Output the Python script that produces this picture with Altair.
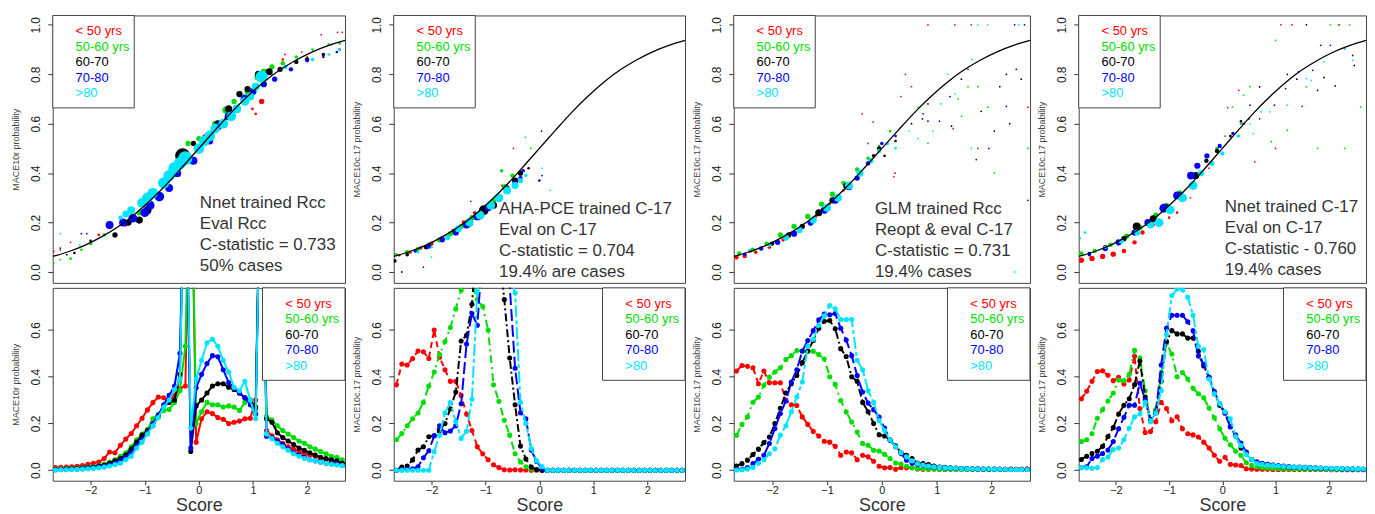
import altair as alt
import pandas as pd

GROUPS = ["< 50 yrs", "50-60 yrs", "60-70", "70-80", ">80"]
COLORS = ["#ff0000", "#00dd00", "#000000", "#0000ff", "#00e5ff"]
DASHES = [[6, 4], [8, 4, 2, 4], [8, 3, 2, 3], [12, 4], [4, 3, 12, 3]]
FONT = "Liberation Sans"

Y_TITLES = ["MACE10r probability", "MACE10c.17 probability",
            "MACE10c.17 probability", "MACE10c.17 probability"]
NOTES = [
    ["Nnet trained Rcc", "Eval Rcc", "C-statistic = 0.733", "50% cases"],
    ["AHA-PCE trained C-17", "Eval on C-17", "C-statistic = 0.704", "19.4% are cases"],
    ["GLM trained Rcc", "Reopt & eval C-17", "C-statistic = 0.731", "19.4% cases"],
    ["Nnet trained C-17", "Eval on C-17", "C-statistic - 0.760", "19.4% cases"],
]

# reference logistic calibration curve (score, probability)
CURVE_SCORE = [-2.7, -2.4, -2.1, -1.8, -1.5, -1.2, -0.9, -0.6, -0.3, 0.0,
               0.3, 0.6, 0.9, 1.2, 1.5, 1.8, 2.1, 2.4, 2.7]
CURVE_PROB = [0.063, 0.083, 0.109, 0.142, 0.182, 0.231, 0.289, 0.354, 0.426, 0.5,
              0.574, 0.646, 0.711, 0.769, 0.818, 0.858, 0.891, 0.917, 0.937]

# top panels: (group, score, probability, bin weight)
TOP1 = [
    (0, -2.68, 0.083, 2), (0, -2.56, 0.09, 2), (0, -2.37, 0.12, 2), (0, -2.2, 0.10, 2),
    (0, -1.85, 0.15, 3), (0, -1.55, 0.15, 5), (0, -1.35, 0.19, 4), (0, -0.35, 0.44, 4),
    (0, 0.1, 0.55, 4), (0, 0.49, 0.62, 3), (0, 0.7, 0.66, 4), (0, 0.99, 0.66, 3),
    (0, 1.05, 0.64, 3), (0, 1.16, 0.69, 6), (0, 1.55, 0.86, 3), (0, 1.59, 0.88, 2),
    (0, 1.9, 0.89, 2), (0, 2.0, 0.87, 2), (0, 2.26, 0.96, 2), (0, 2.45, 0.92, 2),
    (0, 2.56, 0.97, 2), (0, 2.65, 0.97, 2),
    (1, -2.68, 0.036, 2), (1, -2.56, 0.05, 2), (1, -2.37, 0.054, 3), (1, -2.17, 0.09, 3),
    (1, -2.0, 0.115, 4), (1, -1.75, 0.15, 4), (1, -1.3, 0.2, 6), (1, -1.1, 0.24, 6),
    (1, -0.9, 0.28, 6), (1, -0.6, 0.38, 5), (1, -0.2, 0.52, 6), (1, 0.0, 0.54, 6),
    (1, 0.3, 0.6, 7), (1, 0.5, 0.655, 8), (1, 0.65, 0.69, 6), (1, 0.75, 0.72, 7),
    (1, 0.9, 0.73, 7), (1, 1.1, 0.79, 9), (1, 1.2, 0.81, 7), (1, 1.35, 0.83, 6),
    (1, 1.55, 0.845, 5), (1, 1.8, 0.87, 4), (1, 2.1, 0.9, 3), (1, 2.4, 0.92, 3),
    (1, 2.6, 0.925, 3),
    (2, -2.44, 0.07, 2), (2, -2.3, 0.077, 3), (2, -2.0, 0.126, 3), (2, -1.55, 0.15, 6),
    (2, -1.3, 0.2, 7), (2, -1.1, 0.21, 8), (2, -0.95, 0.25, 9), (2, -0.6, 0.37, 8),
    (2, -0.3, 0.47, 17), (2, -0.1, 0.52, 6), (2, 0.1, 0.53, 7), (2, 0.35, 0.6, 8),
    (2, 0.55, 0.66, 8), (2, 0.75, 0.72, 7), (2, 0.9, 0.74, 7), (2, 1.1, 0.8, 8),
    (2, 1.3, 0.81, 8), (2, 1.5, 0.82, 6), (2, 1.8, 0.85, 5), (2, 2.0, 0.86, 5),
    (2, 2.3, 0.88, 4), (2, 2.6, 0.9, 3),
    (3, -2.56, 0.097, 2), (3, -2.17, 0.155, 2), (3, -2.07, 0.155, 2), (3, -1.65, 0.19, 9),
    (3, -1.4, 0.2, 9), (3, -1.22, 0.218, 10), (3, -1.0, 0.24, 10), (3, -0.9, 0.27, 10),
    (3, -0.73, 0.305, 11), (3, -0.55, 0.34, 9), (3, -0.4, 0.4, 9), (3, -0.1, 0.45, 9),
    (3, 0.2, 0.53, 8), (3, 0.35, 0.59, 9), (3, 0.55, 0.63, 9), (3, 0.7, 0.66, 9),
    (3, 0.85, 0.7, 10), (3, 1.0, 0.73, 8), (3, 1.2, 0.76, 7), (3, 1.4, 0.78, 6),
    (3, 1.7, 0.82, 5), (3, 2.0, 0.855, 4), (3, 2.3, 0.87, 3), (3, 2.55, 0.89, 3),
    (4, -2.56, 0.155, 2), (4, -2.2, 0.11, 2), (4, -1.45, 0.22, 5), (4, -1.35, 0.235, 8),
    (4, -1.25, 0.25, 9), (4, -1.05, 0.28, 11), (4, -0.95, 0.3, 12), (4, -0.85, 0.32, 12),
    (4, -0.65, 0.36, 13), (4, -0.55, 0.39, 13), (4, -0.45, 0.42, 14), (4, -0.35, 0.44, 14),
    (4, -0.25, 0.46, 16), (4, 0.0, 0.5, 12), (4, 0.1, 0.53, 12), (4, 0.2, 0.55, 12),
    (4, 0.3, 0.58, 11), (4, 0.45, 0.6, 11), (4, 0.6, 0.63, 11), (4, 0.7, 0.66, 10),
    (4, 0.85, 0.69, 10), (4, 0.95, 0.71, 9), (4, 1.05, 0.75, 9), (4, 1.16, 0.79, 14),
    (4, 1.6, 0.83, 5), (4, 2.1, 0.86, 4), (4, 2.4, 0.88, 3), (4, 2.6, 0.9, 3),
]
TOP2 = [
    (0, -2.6, 0.068, 3), (0, -2.4, 0.08, 4), (0, -2.2, 0.097, 4), (0, -2.0, 0.115, 5),
    (0, -1.8, 0.138, 5), (0, -1.6, 0.165, 5), (0, -1.4, 0.2, 5), (0, -1.2, 0.24, 4),
    (0, -1.27, 0.286, 2), (0, -0.48, 0.5, 2), (0, -0.7, 0.35, 2),
    (1, -2.65, 0.07, 4), (1, -2.45, 0.08, 5), (1, -2.25, 0.093, 5), (1, -2.05, 0.11, 5),
    (1, -1.85, 0.13, 6), (1, -1.65, 0.155, 6), (1, -1.45, 0.185, 6), (1, -1.25, 0.22, 6),
    (1, -1.05, 0.25, 7), (1, -0.85, 0.29, 6), (1, -0.65, 0.345, 6), (1, -0.5, 0.39, 5),
    (1, -0.7, 0.41, 4), (1, -0.26, 0.545, 2), (1, -0.16, 0.5, 2),
    (2, -2.68, 0.045, 4), (2, -2.45, 0.07, 4), (2, -2.1, 0.1, 5), (2, -1.8, 0.13, 5),
    (2, -1.55, 0.165, 7), (2, -1.3, 0.2, 9), (2, -1.03, 0.25, 11), (2, -0.85, 0.27, 8),
    (2, -0.6, 0.34, 6), (2, -0.45, 0.37, 7), (2, -0.35, 0.4, 6), (2, -0.2, 0.42, 3),
    (2, 0.04, 0.57, 2),
    (3, -2.55, 0.0, 2), (3, -2.3, 0.085, 4), (3, -2.05, 0.105, 6), (3, -1.8, 0.13, 6),
    (3, -1.55, 0.16, 7), (3, -1.35, 0.19, 8), (3, -1.15, 0.225, 9), (3, -0.95, 0.26, 8),
    (3, -0.75, 0.3, 8), (3, -0.6, 0.33, 7), (3, -0.45, 0.36, 6), (3, -0.35, 0.38, 5),
    (3, -0.3, 0.41, 4), (3, 0.0, 0.37, 3), (3, 0.05, 0.39, 2), (3, -2.15, 0.02, 2),
    (4, -2.25, 0.08, 3), (4, -2.0, 0.1, 3), (4, -1.7, 0.14, 6), (4, -1.5, 0.175, 8),
    (4, -1.3, 0.2, 9), (4, -1.1, 0.23, 10), (4, -0.9, 0.27, 10), (4, -0.75, 0.3, 10),
    (4, -0.6, 0.33, 9), (4, -0.45, 0.35, 8), (4, -0.35, 0.37, 6), (4, -0.25, 0.39, 4),
    (4, 0.2, 0.33, 2), (4, -2.0, 0.06, 2), (4, 0.05, 0.42, 2),
]
TOP3 = [
    (0, -2.65, 0.06, 5), (0, -2.5, 0.065, 5), (0, -2.3, 0.08, 4), (0, -2.05, 0.1, 4),
    (0, -1.8, 0.13, 4), (0, -1.5, 0.17, 4), (0, -1.2, 0.225, 3), (0, -0.95, 0.275, 3),
    (0, -0.7, 0.33, 3), (0, -0.5, 0.375, 2), (0, -0.36, 0.64, 2), (0, -0.16, 0.607, 2),
    (0, -0.25, 0.52, 2), (0, 0.22, 0.385, 2), (0, 0.24, 0.40, 2), (0, 0.35, 0.71, 2),
    (0, 0.43, 0.8, 2), (0, 0.54, 0.75, 2), (0, 0.84, 1.0, 2), (0, 1.33, 1.0, 2),
    (0, 1.63, 1.0, 2), (0, 1.75, 0.5, 2), (0, 2.66, 0.667, 2), (0, 1.3, 0.58, 2),
    (1, -2.6, 0.075, 5), (1, -2.35, 0.09, 5), (1, -2.1, 0.115, 5), (1, -1.85, 0.15, 6),
    (1, -1.6, 0.185, 6), (1, -1.35, 0.225, 6), (1, -1.1, 0.275, 6), (1, -0.9, 0.315, 6),
    (1, -0.7, 0.36, 5), (1, -0.45, 0.415, 5), (1, -0.25, 0.46, 4), (1, -0.05, 0.51, 3),
    (1, 0.15, 0.57, 3), (1, 0.66, 0.667, 2), (1, 0.84, 0.52, 2), (1, 1.39, 0.7, 2),
    (1, 1.57, 0.75, 2), (1, 1.75, 0.75, 2), (1, 1.45, 0.63, 2), (1, 1.93, 0.667, 2),
    (1, 2.05, 0.4, 2), (1, 2.66, 0.5, 2),
    (2, -2.4, 0.085, 4), (2, -2.0, 0.115, 5), (2, -1.7, 0.15, 6), (2, -1.45, 0.185, 6),
    (2, -1.15, 0.24, 8), (2, -0.9, 0.29, 7), (2, -0.64, 0.348, 8), (2, -0.4, 0.4, 6),
    (2, -0.15, 0.47, 4), (2, -0.05, 0.5, 5), (2, 0.05, 0.47, 3), (2, 0.25, 0.53, 3),
    (2, 0.84, 0.68, 2), (2, 0.74, 0.62, 2), (2, 0.54, 0.6, 2), (2, 1.27, 0.59, 2),
    (2, 1.45, 0.78, 2), (2, 1.81, 0.65, 2), (2, 2.15, 0.75, 2), (2, 2.27, 0.8, 2),
    (2, 2.45, 0.82, 2), (2, 2.54, 0.78, 2), (2, 2.05, 0.57, 2), (2, 2.33, 0.6, 2),
    (3, -2.5, 0.072, 4), (3, -2.2, 0.095, 5), (3, -1.9, 0.12, 6), (3, -1.6, 0.155, 7),
    (3, -1.3, 0.2, 7), (3, -1.05, 0.25, 8), (3, -0.85, 0.29, 8), (3, -0.6, 0.345, 8),
    (3, -0.45, 0.38, 6), (3, -0.25, 0.44, 5), (3, 0.0, 0.52, 4), (3, 0.25, 0.55, 3),
    (3, 2.42, 1.0, 2), (3, 2.6, 1.0, 2), (3, 1.57, 0.82, 2), (3, 1.24, 0.71, 2),
    (3, 0.84, 0.61, 2), (3, 0.75, 0.64, 2), (3, 1.05, 0.61, 2), (3, 1.72, 0.455, 2),
    (3, 2.27, 0.67, 2), (3, 2.66, 0.29, 2), (3, 1.95, 0.5, 2),
    (4, -2.4, 0.09, 3), (4, -2.05, 0.11, 5), (4, -1.75, 0.14, 7), (4, -1.5, 0.17, 7),
    (4, -1.25, 0.21, 8), (4, -1.0, 0.26, 9), (4, -0.8, 0.3, 9), (4, -0.6, 0.35, 9),
    (4, -0.4, 0.4, 8), (4, -0.2, 0.45, 6), (4, -0.05, 0.49, 5), (4, 0.1, 0.52, 4),
    (4, 0.25, 0.5, 3), (4, 1.75, 1.0, 2), (4, 1.93, 1.0, 2), (4, 2.5, 1.0, 2),
    (4, 1.64, 0.86, 2), (4, 1.2, 0.8, 2), (4, 1.33, 0.72, 2), (4, 1.08, 0.68, 2),
    (4, 0.93, 0.57, 2), (4, 0.66, 0.54, 2), (4, 1.63, 0.5, 2), (4, 2.42, 0.0, 2),
    (4, 0.5, 0.57, 2),
]
TOP4 = [
    (0, -2.65, 0.048, 6), (0, -2.45, 0.055, 6), (0, -2.25, 0.063, 6), (0, -2.05, 0.072, 6),
    (0, -1.85, 0.085, 5), (0, -1.65, 0.12, 5), (0, -1.5, 0.16, 5), (0, -1.3, 0.19, 4),
    (0, -1.0, 0.22, 3), (0, -0.85, 0.24, 3), (0, -0.6, 0.3, 2), (0, -0.25, 0.42, 2),
    (0, 0.05, 0.55, 2), (0, 0.1, 0.665, 2), (0, 0.31, 0.735, 2), (0, 1.1, 1.0, 2),
    (0, 1.31, 1.0, 2), (0, 0.61, 0.446, 2), (0, 1.0, 0.5, 2), (0, 1.5, 0.67, 2),
    (0, 2.2, 1.0, 2),
    (1, -2.65, 0.075, 5), (1, -2.4, 0.085, 5), (1, -2.1, 0.11, 5), (1, -1.8, 0.145, 6),
    (1, -1.55, 0.18, 6), (1, -1.25, 0.23, 6), (1, -1.05, 0.27, 6), (1, -0.8, 0.32, 6),
    (1, -0.55, 0.39, 5), (1, -0.3, 0.45, 4), (1, -0.1, 0.5, 4), (1, 0.15, 0.55, 3),
    (1, 0.35, 0.6, 3), (1, 1.0, 0.937, 2), (1, 0.19, 0.668, 2), (1, 0.4, 0.715, 2),
    (1, 0.52, 0.75, 2), (1, 0.92, 0.527, 2), (1, 1.22, 0.574, 2), (1, 1.58, 0.749, 2),
    (1, 1.79, 0.5, 2), (1, 2.3, 0.5, 2), (1, 2.03, 1.0, 2), (1, 2.18, 1.0, 2),
    (1, 2.39, 1.0, 2), (1, 2.6, 0.668, 2),
    (2, -2.5, 0.075, 4), (2, -2.2, 0.1, 5), (2, -1.85, 0.135, 6), (2, -1.61, 0.184, 9),
    (2, -1.3, 0.215, 8), (2, -1.05, 0.26, 8), (2, -0.8, 0.31, 7), (2, -0.5, 0.39, 8),
    (2, -0.3, 0.45, 5), (2, -0.1, 0.49, 5), (2, 0.15, 0.55, 3), (2, 0.35, 0.61, 3),
    (2, 0.5, 0.62, 2), (2, 0.7, 0.749, 2), (2, 1.22, 0.8, 2), (2, 1.4, 0.78, 2),
    (2, 1.58, 1.0, 2), (2, 1.79, 0.735, 2), (2, 1.91, 0.786, 2), (2, 2.12, 0.753, 2),
    (2, 2.48, 0.836, 2),
    (3, -2.5, 0.07, 4), (3, -2.2, 0.095, 6), (3, -1.95, 0.12, 7), (3, -1.65, 0.16, 7),
    (3, -1.4, 0.2, 8), (3, -1.1, 0.258, 10), (3, -0.85, 0.31, 9), (3, -0.59, 0.39, 9),
    (3, -0.47, 0.43, 7), (3, -0.29, 0.47, 6), (3, -0.05, 0.51, 5), (3, 0.2, 0.56, 4),
    (3, 0.4, 0.6, 3), (3, 0.52, 0.675, 2), (3, 0.7, 0.62, 2), (3, 0.98, 0.675, 2),
    (3, 1.19, 0.742, 2), (3, 1.43, 0.81, 2), (3, 1.7, 0.816, 2), (3, 1.85, 0.917, 2),
    (3, 2.03, 0.917, 2), (3, 2.3, 0.903, 2), (3, 2.45, 0.876, 2),
    (4, -2.67, 0.137, 2), (4, -2.58, 0.16, 3), (4, -2.2, 0.1, 4), (4, -1.9, 0.125, 6),
    (4, -1.6, 0.16, 7), (4, -1.35, 0.19, 8), (4, -1.19, 0.2, 10), (4, -0.98, 0.251, 10),
    (4, -0.75, 0.3, 10), (4, -0.55, 0.35, 10), (4, -0.4, 0.4, 7), (4, -0.2, 0.44, 6),
    (4, 0.0, 0.48, 5), (4, 0.3, 0.55, 4), (4, 0.58, 0.56, 2), (4, 0.52, 0.6, 2),
    (4, 0.73, 0.648, 2), (4, 0.89, 0.648, 2), (4, 1.22, 0.675, 2), (4, 1.58, 0.782, 2),
    (4, 1.67, 0.775, 2), (4, 1.91, 0.85, 2), (4, 2.3, 0.903, 2), (4, 2.45, 0.856, 2),
]

# bottom panels: 54 score bins
SCORE_BINS = [-2.65, -2.55, -2.45, -2.35, -2.25, -2.15, -2.05, -1.95, -1.85, -1.75,
              -1.65, -1.55, -1.45, -1.35, -1.25, -1.15, -1.05, -0.95, -0.85, -0.75,
              -0.65, -0.55, -0.45, -0.35, -0.25, -0.15, -0.05, 0.05, 0.15, 0.25,
              0.35, 0.45, 0.55, 0.65, 0.75, 0.85, 0.95, 1.05, 1.15, 1.25,
              1.35, 1.45, 1.55, 1.65, 1.75, 1.85, 1.95, 2.05, 2.15, 2.25,
              2.35, 2.45, 2.55, 2.65]

B1_RED = [0.011, 0.012, 0.013, 0.015, 0.017, 0.020, 0.025, 0.030, 0.035, 0.050,
          0.078, 0.075, 0.107, 0.133, 0.157, 0.190, 0.222, 0.258, 0.289, 0.313,
          0.310, 0.300, 0.320, 0.350, 0.360, 1.500, 0.120, 0.220, 0.250, 0.242,
          0.225, 0.218, 0.200, 0.205, 0.210, 0.220, 0.222, 0.300, 1.500, 0.170,
          0.147, 0.130, 0.115, 0.100, 0.090, 0.080, 0.070, 0.065, 0.060, 0.050,
          0.045, 0.040, 0.035, 0.030]
B1_GREEN = [0.005, 0.006, 0.007, 0.008, 0.009, 0.011, 0.013, 0.016, 0.020, 0.025,
            0.035, 0.045, 0.060, 0.075, 0.100, 0.130, 0.155, 0.175, 0.220, 0.240,
            0.255, 0.260, 0.290, 0.340, 0.530, 1.500, 0.200, 0.250, 0.290, 0.280,
            0.280, 0.270, 0.275, 0.270, 0.255, 0.290, 0.300, 0.260, 1.500, 0.230,
            0.215, 0.190, 0.170, 0.155, 0.140, 0.125, 0.115, 0.100, 0.090, 0.080,
            0.070, 0.060, 0.055, 0.045]
B1_BLACK = [0.003, 0.004, 0.005, 0.006, 0.007, 0.009, 0.011, 0.014, 0.018, 0.022,
            0.030, 0.040, 0.050, 0.065, 0.090, 0.120, 0.150, 0.170, 0.190, 0.230,
            0.275, 0.290, 0.300, 0.410, 1.500, 0.080, 0.275, 0.300, 0.330, 0.360,
            0.370, 0.370, 0.355, 0.345, 0.330, 0.310, 0.300, 0.270, 1.500, 0.220,
            0.205, 0.160, 0.140, 0.125, 0.110, 0.095, 0.085, 0.075, 0.065, 0.055,
            0.050, 0.045, 0.040, 0.030]
B1_BLUE = [0.002, 0.003, 0.003, 0.004, 0.005, 0.006, 0.008, 0.010, 0.013, 0.017,
           0.022, 0.030, 0.040, 0.055, 0.075, 0.105, 0.130, 0.160, 0.200, 0.235,
           0.280, 0.320, 0.360, 0.500, 1.500, 0.095, 0.353, 0.410, 0.456, 0.490,
           0.485, 0.430, 0.375, 0.350, 0.330, 0.310, 0.280, 0.240, 1.500, 0.145,
           0.140, 0.125, 0.110, 0.090, 0.075, 0.065, 0.055, 0.045, 0.040, 0.035,
           0.030, 0.028, 0.025, 0.020]
B1_CYAN = [0.001, 0.002, 0.002, 0.003, 0.004, 0.005, 0.006, 0.008, 0.010, 0.013,
           0.018, 0.024, 0.030, 0.045, 0.060, 0.095, 0.120, 0.155, 0.190, 0.225,
           0.270, 0.300, 0.345, 0.390, 1.500, 0.180, 0.390, 0.470, 0.545, 0.560,
           0.530, 0.470, 0.420, 0.355, 0.340, 0.380, 0.300, 0.220, 1.500, 0.155,
           0.135, 0.115, 0.100, 0.085, 0.070, 0.060, 0.050, 0.045, 0.040, 0.035,
           0.030, 0.025, 0.022, 0.020]

B2_RED = [0.365, 0.454, 0.450, 0.478, 0.510, 0.507, 0.478, 0.600, 0.483, 0.430,
          0.380, 0.380, 0.320, 0.240, 0.170, 0.100, 0.070, 0.045, 0.023, 0.011,
          0.002, 0.001, 0.002, 0.001, 0.001, 0.000, 0.000, 0.000, 0.000, 0.000,
          0.000, 0.000, 0.000, 0.000, 0.000, 0.000, 0.000, 0.000, 0.000, 0.000,
          0.000, 0.000, 0.000, 0.000, 0.000, 0.000, 0.000, 0.000, 0.000, 0.000,
          0.000, 0.000, 0.000, 0.000]
B2_GREEN = [0.130, 0.157, 0.190, 0.220, 0.245, 0.290, 0.360, 0.420, 0.495, 0.550,
            0.610, 0.690, 0.770, 0.840, 0.800, 0.730, 0.700, 0.600, 0.365, 0.295,
            0.214, 0.150, 0.070, 0.035, 0.015, 0.005, 0.002, 0.000, 0.000, 0.000,
            0.000, 0.000, 0.000, 0.000, 0.000, 0.000, 0.000, 0.000, 0.000, 0.000,
            0.000, 0.000, 0.000, 0.000, 0.000, 0.000, 0.000, 0.000, 0.000, 0.000,
            0.000, 0.000, 0.000, 0.000]
B2_BLACK = [0.000, 0.014, 0.018, 0.044, 0.086, 0.100, 0.143, 0.147, 0.170, 0.200,
            0.263, 0.334, 0.553, 0.577, 0.710, 1.000, 1.100, 1.150, 1.100, 0.950,
            0.730, 0.480, 0.280, 0.103, 0.048, 0.013, 0.003, 0.000, 0.000, 0.000,
            0.000, 0.000, 0.000, 0.000, 0.000, 0.000, 0.000, 0.000, 0.000, 0.000,
            0.000, 0.000, 0.000, 0.000, 0.000, 0.000, 0.000, 0.000, 0.000, 0.000,
            0.000, 0.000, 0.000, 0.000]
B2_BLUE = [0.000, 0.002, 0.004, 0.006, 0.015, 0.053, 0.083, 0.147, 0.190, 0.160,
           0.168, 0.190, 0.284, 0.540, 0.670, 0.620, 0.950, 1.050, 1.100, 1.050,
           0.950, 0.790, 0.436, 0.246, 0.220, 0.086, 0.037, 0.006, 0.000, 0.000,
           0.000, 0.000, 0.000, 0.000, 0.000, 0.000, 0.000, 0.000, 0.000, 0.000,
           0.000, 0.000, 0.000, 0.000, 0.000, 0.000, 0.000, 0.000, 0.000, 0.000,
           0.000, 0.000, 0.000, 0.000]
B2_CYAN = [0.000, 0.000, 0.000, 0.000, 0.000, 0.000, 0.000, 0.079, 0.150, 0.246,
           0.289, 0.207, 0.136, 0.167, 0.303, 0.765, 0.950, 1.050, 1.100, 1.050,
           0.950, 0.850, 0.758, 0.291, 0.200, 0.093, 0.040, 0.016, 0.000, 0.000,
           0.000, 0.000, 0.000, 0.000, 0.000, 0.000, 0.000, 0.000, 0.000, 0.000,
           0.000, 0.000, 0.000, 0.000, 0.000, 0.000, 0.000, 0.000, 0.000, 0.000,
           0.000, 0.000, 0.000, 0.000]

B3_RED = [0.424, 0.448, 0.445, 0.438, 0.370, 0.424, 0.374, 0.374, 0.374, 0.300,
          0.280, 0.277, 0.228, 0.196, 0.166, 0.146, 0.124, 0.120, 0.102, 0.064,
          0.078, 0.074, 0.045, 0.064, 0.057, 0.038, 0.017, 0.010, 0.011, 0.004,
          0.011, 0.010, 0.011, 0.005, 0.004, 0.004, 0.005, 0.004, 0.003, 0.004,
          0.003, 0.004, 0.003, 0.003, 0.004, 0.003, 0.003, 0.004, 0.005, 0.004,
          0.005, 0.004, 0.005, 0.006]
B3_GREEN = [0.149, 0.196, 0.228, 0.291, 0.313, 0.363, 0.398, 0.420, 0.438, 0.473,
            0.490, 0.512, 0.509, 0.509, 0.509, 0.495, 0.476, 0.400, 0.367, 0.298,
            0.249, 0.206, 0.163, 0.114, 0.107, 0.085, 0.082, 0.068, 0.050, 0.031,
            0.026, 0.017, 0.010, 0.007, 0.006, 0.005, 0.005, 0.004, 0.004, 0.004,
            0.003, 0.003, 0.003, 0.003, 0.003, 0.003, 0.003, 0.003, 0.003, 0.003,
            0.003, 0.003, 0.003, 0.003]
B3_BLACK = [0.018, 0.028, 0.043, 0.067, 0.090, 0.118, 0.142, 0.200, 0.265, 0.330,
            0.370, 0.405, 0.460, 0.510, 0.555, 0.607, 0.637, 0.640, 0.605, 0.520,
            0.486, 0.400, 0.380, 0.290, 0.250, 0.200, 0.152, 0.146, 0.128, 0.104,
            0.075, 0.064, 0.050, 0.031, 0.028, 0.024, 0.018, 0.014, 0.012, 0.010,
            0.009, 0.008, 0.007, 0.006, 0.006, 0.005, 0.005, 0.005, 0.004, 0.004,
            0.004, 0.004, 0.003, 0.003]
B3_BLUE = [0.003, 0.004, 0.011, 0.028, 0.047, 0.064, 0.114, 0.178, 0.242, 0.296,
           0.377, 0.430, 0.510, 0.555, 0.597, 0.643, 0.668, 0.665, 0.670, 0.607,
           0.557, 0.490, 0.405, 0.334, 0.287, 0.259, 0.227, 0.180, 0.130, 0.100,
           0.071, 0.043, 0.031, 0.024, 0.021, 0.017, 0.014, 0.012, 0.010, 0.009,
           0.008, 0.007, 0.006, 0.006, 0.005, 0.005, 0.005, 0.004, 0.004, 0.004,
           0.003, 0.003, 0.003, 0.003]
B3_CYAN = [0.001, 0.002, 0.005, 0.012, 0.030, 0.045, 0.070, 0.092, 0.150, 0.190,
           0.250, 0.313, 0.377, 0.530, 0.560, 0.620, 0.660, 0.704, 0.690, 0.645,
           0.645, 0.645, 0.470, 0.430, 0.340, 0.290, 0.213, 0.170, 0.130, 0.100,
           0.075, 0.057, 0.040, 0.028, 0.022, 0.018, 0.015, 0.012, 0.010, 0.009,
           0.008, 0.007, 0.006, 0.006, 0.005, 0.005, 0.005, 0.004, 0.004, 0.004,
           0.003, 0.003, 0.003, 0.003]

B4_RED = [0.306, 0.338, 0.380, 0.422, 0.425, 0.406, 0.383, 0.397, 0.369, 0.386,
          0.488, 0.264, 0.161, 0.165, 0.207, 0.290, 0.264, 0.212, 0.229, 0.177,
          0.156, 0.151, 0.142, 0.120, 0.095, 0.064, 0.038, 0.055, 0.025, 0.022,
          0.020, 0.006, 0.005, 0.004, 0.004, 0.004, 0.003, 0.003, 0.003, 0.003,
          0.003, 0.003, 0.003, 0.003, 0.003, 0.003, 0.003, 0.002, 0.002, 0.002,
          0.002, 0.002, 0.002, 0.002]
B4_GREEN = [0.123, 0.130, 0.156, 0.222, 0.260, 0.296, 0.330, 0.386, 0.383, 0.410,
            0.513, 0.480, 0.340, 0.215, 0.260, 0.410, 0.544, 0.497, 0.400, 0.418,
            0.390, 0.350, 0.327, 0.310, 0.266, 0.224, 0.177, 0.137, 0.109, 0.081,
            0.063, 0.032, 0.021, 0.015, 0.011, 0.009, 0.008, 0.007, 0.006, 0.005,
            0.005, 0.005, 0.004, 0.004, 0.004, 0.004, 0.004, 0.003, 0.003, 0.003,
            0.003, 0.003, 0.003, 0.003]
B4_BLACK = [0.046, 0.060, 0.071, 0.081, 0.102, 0.144, 0.182, 0.240, 0.278, 0.306,
            0.366, 0.467, 0.313, 0.214, 0.250, 0.380, 0.550, 0.597, 0.583, 0.583,
            0.565, 0.565, 0.509, 0.446, 0.397, 0.327, 0.278, 0.245, 0.186, 0.150,
            0.095, 0.074, 0.046, 0.035, 0.029, 0.025, 0.021, 0.018, 0.015, 0.013,
            0.012, 0.011, 0.010, 0.009, 0.008, 0.008, 0.007, 0.007, 0.006, 0.006,
            0.005, 0.005, 0.005, 0.004]
B4_BLUE = [0.011, 0.015, 0.050, 0.060, 0.071, 0.086, 0.123, 0.177, 0.226, 0.278,
           0.278, 0.372, 0.300, 0.210, 0.245, 0.450, 0.607, 0.663, 0.663, 0.663,
           0.635, 0.596, 0.488, 0.453, 0.397, 0.336, 0.285, 0.245, 0.186, 0.150,
           0.116, 0.078, 0.046, 0.035, 0.028, 0.025, 0.022, 0.020, 0.018, 0.016,
           0.014, 0.013, 0.012, 0.011, 0.010, 0.009, 0.008, 0.007, 0.007, 0.006,
           0.005, 0.005, 0.005, 0.004]
B4_CYAN = [0.011, 0.010, 0.008, 0.011, 0.046, 0.056, 0.088, 0.095, 0.130, 0.180,
           0.228, 0.240, 0.290, 0.207, 0.245, 0.340, 0.580, 0.747, 0.775, 0.772,
           0.740, 0.663, 0.530, 0.516, 0.390, 0.327, 0.285, 0.250, 0.220, 0.144,
           0.105, 0.067, 0.046, 0.028, 0.025, 0.022, 0.020, 0.018, 0.016, 0.014,
           0.013, 0.012, 0.011, 0.010, 0.009, 0.009, 0.008, 0.008, 0.007, 0.007,
           0.006, 0.006, 0.005, 0.005]

TOPS = [TOP1, TOP2, TOP3, TOP4]
BOTTOMS = [
    [B1_RED, B1_GREEN, B1_BLACK, B1_BLUE, B1_CYAN],
    [B2_RED, B2_GREEN, B2_BLACK, B2_BLUE, B2_CYAN],
    [B3_RED, B3_GREEN, B3_BLACK, B3_BLUE, B3_CYAN],
    [B4_RED, B4_GREEN, B4_BLACK, B4_BLUE, B4_CYAN],
]

# ---- layout / style ----
WIDTHS = [294, 293, 298, 289]
TOP_H = 269
BOT_H = 194
NOTE_POS = [(148, 189), (106, 195), (142, 195), (147, 193)]
X_DOMAIN = [-2.7, 2.7]
TOP_Y_DOMAIN = [-0.044, 1.038]
BOT_Y_DOMAIN = [-0.045, 0.78]
DUMMY = pd.DataFrame({"k": [0]})


def y_axis(title, values):
    return alt.Axis(values=values, format=".1f", title=title, labelAngle=270,
                    labelAlign="center", labelBaseline="bottom", labelFontSize=12,
                    labelPadding=5, tickSize=5, labelColor="#222", tickColor="#333",
                    titleFontSize=9, titleFontWeight="normal", titleColor="#444",
                    titlePadding=12, domain=False, grid=False,
                    minExtent=20, maxExtent=20)


def legend_layers(x0, width=82, height=93):
    out = [alt.Chart(DUMMY).mark_rect(fill="white", stroke="#444", strokeWidth=1).encode(
        x=alt.value(x0), x2=alt.value(x0 + width), y=alt.value(0), y2=alt.value(height))]
    for gi in range(5):
        out.append(alt.Chart(DUMMY).mark_text(
            text=GROUPS[gi], color=COLORS[gi], align="left", baseline="middle",
            fontSize=13, font=FONT).encode(x=alt.value(x0 + 23), y=alt.value(16 + 15.6 * gi)))
    return out


def top_panel(k):
    w = WIDTHS[k]
    xs = alt.Scale(domain=X_DOMAIN, nice=False, zero=False)
    ys = alt.Scale(domain=TOP_Y_DOMAIN, nice=False, zero=False)
    yax = y_axis(Y_TITLES[k], [0, 0.2, 0.4, 0.6, 0.8, 1.0])
    df = pd.DataFrame(TOPS[k], columns=["g", "score", "prob", "d"])
    df["area"] = df["d"] * df["d"] * 0.785
    layers = []
    for gi in range(5):
        sub = df[df["g"] == gi]
        layers.append(alt.Chart(sub).mark_circle(color=COLORS[gi], opacity=1, clip=True).encode(
            x=alt.X("score:Q", scale=xs, axis=None),
            y=alt.Y("prob:Q", scale=ys, axis=yax),
            size=alt.Size("area:Q", scale=None, legend=None)))
    curve = pd.DataFrame({"score": CURVE_SCORE, "prob": CURVE_PROB})
    layers.append(alt.Chart(curve).mark_line(color="black", strokeWidth=1.3,
                                             interpolate="monotone", clip=True).encode(
        x=alt.X("score:Q", scale=xs, axis=None),
        y=alt.Y("prob:Q", scale=ys, axis=yax)))
    layers += legend_layers(0)
    nx, ny = NOTE_POS[k]
    for li, line in enumerate(NOTES[k]):
        layers.append(alt.Chart(DUMMY).mark_text(
            text=line, color="#333", align="left", baseline="middle", fontSize=17,
            font=FONT).encode(x=alt.value(nx), y=alt.value(ny + 21 * li)))
    return alt.layer(*layers).properties(width=w, height=TOP_H)


def bottom_panel(k):
    w = WIDTHS[k]
    xs = alt.Scale(domain=X_DOMAIN, nice=False, zero=False)
    ys = alt.Scale(domain=BOT_Y_DOMAIN, nice=False, zero=False)
    xax = alt.Axis(values=[-2, -1, 0, 1, 2], format="d", title="Score", labelFontSize=11,
                   labelColor="#222", tickColor="#333", tickSize=4, labelPadding=0,
                   titleFontSize=18, titleFontWeight="normal", titleColor="#333",
                   titlePadding=1, domain=False, grid=False)
    yax = y_axis(Y_TITLES[k], [0, 0.2, 0.4, 0.6])
    layers = []
    for gi in range(5):
        df = pd.DataFrame({"score": SCORE_BINS, "v": BOTTOMS[k][gi]})
        enc = dict(x=alt.X("score:Q", scale=xs, axis=xax), y=alt.Y("v:Q", scale=ys, axis=yax))
        lk = dict(color=COLORS[gi], strokeWidth=2, clip=True)
        if k > 0:
            lk["strokeDash"] = DASHES[gi]
        layers.append(alt.Chart(df).mark_line(**lk).encode(**enc))
        layers.append(alt.Chart(df).mark_circle(color=COLORS[gi], size=26, opacity=1,
                                                clip=True).encode(**enc))
    layers += legend_layers(w - 83, width=83)
    return alt.layer(*layers).properties(width=w, height=BOT_H)


cols = [alt.vconcat(top_panel(k), bottom_panel(k), spacing=3) for k in range(4)]
chart = alt.hconcat(*cols, spacing=6).properties(
    padding={"left": 3, "top": 5, "right": 0, "bottom": 0}
).configure_view(stroke="#444", strokeWidth=1).configure_axis(
    labelFont=FONT, titleFont=FONT
)

chart.save("out.html", embed_options={"renderer": "svg", "actions": False})
